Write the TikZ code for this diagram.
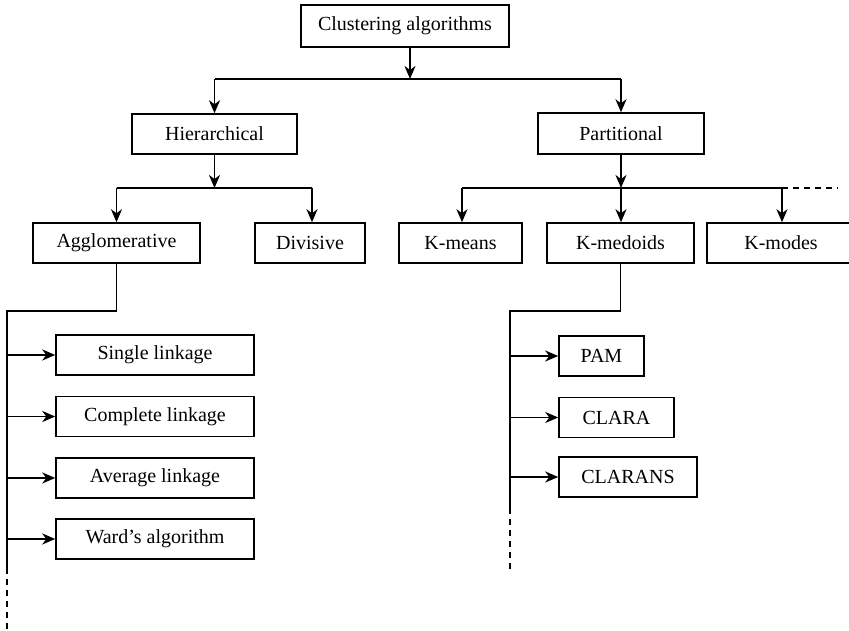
\documentclass[tikz,border=0pt]{standalone}
\usepackage{fontspec}
\setmainfont{Liberation Serif}
\usetikzlibrary{arrows.meta}
\begin{document}
\begin{tikzpicture}[x=1pt,y=-1pt,
  box/.style={draw, line width=1.5pt, rectangle, inner sep=0pt,
    font=\fontsize{20}{24}\selectfont},
  conn/.style={line width=1.8pt},
  arr/.style={conn, -{Stealth[length=13pt,width=11pt,inset=4pt]}},
  dashline/.style={line width=1.6pt, dash pattern=on 6pt off 5pt}]
\useasboundingbox (0,0) rectangle (849,631);
\clip (0,0) rectangle (849,631);
% level 0
\node[box, minimum width=208pt, minimum height=42pt] (clus) at (405,26) {Clustering algorithms};
% level 1
\node[box, minimum width=165pt, minimum height=40pt] (hier) at (214.5,134) {Hierarchical};
\node[box, minimum width=166pt, minimum height=41pt] (part) at (621,133.5) {Partitional};
% level 2
\node[box, minimum width=167pt, minimum height=40pt] (agg) at (116.5,243) {Agglomerative};
\node[box, minimum width=110pt, minimum height=40pt] (div) at (310,243) {Divisive};
\node[box, minimum width=123pt, minimum height=40pt] (kmeans) at (460.5,243) {K-means};
\node[box, minimum width=147pt, minimum height=40pt] (kmed) at (620.5,243) {K-medoids};
\node[box, minimum width=148pt, minimum height=40pt] (kmodes) at (781,243) {K-modes};
% hierarchical leaves
\node[box, minimum width=198pt, minimum height=40pt] (single) at (155,355) {Single linkage};
\node[box, minimum width=198pt, minimum height=40pt] (complete) at (155,416.5) {Complete linkage};
\node[box, minimum width=198pt, minimum height=40pt] (average) at (155,478) {Average linkage};
\node[box, minimum width=198pt, minimum height=40pt] (ward) at (155,539) {Ward’s algorithm};
% k-medoids leaves
\node[box, minimum width=85pt, minimum height=40pt] (pam) at (601.5,356) {PAM};
\node[box, minimum width=115pt, minimum height=40pt] (clara) at (616.5,417.5) {CLARA};
\node[box, minimum width=138pt, minimum height=40pt] (clarans) at (628,477) {CLARANS};
% junction coordinates
\coordinate (j0) at (410,79);
\coordinate (j0l) at (214.5,79);
\coordinate (j0r) at (621,79);
\coordinate (jh) at (214.5,188);
\coordinate (jhl) at (116.5,188);
\coordinate (jhr) at (312,188);
\coordinate (jp) at (621,188);
\coordinate (jpl) at (462,188);
\coordinate (jpr) at (782,188);
\coordinate (jpd) at (838,188);
\coordinate (ja) at (116.5,311);
\coordinate (jal) at (7,311);
\coordinate (jae) at (7,568);
\coordinate (jad) at (7,631);
\coordinate (jm) at (620.5,311);
\coordinate (jml) at (510,311);
\coordinate (jme) at (510,508);
\coordinate (jmd) at (510,570);
% level 0 -> 1
\draw[arr] (clus.south -| j0) -- (j0);
\draw[conn] (j0l) -- (j0r);
\draw[arr] (j0l) -- (hier.north);
\draw[arr] (j0r) -- (part.north);
% hierarchical -> 2
\draw[arr] (hier.south) -- (jh);
\draw[conn] (jhl) -- (jhr);
\draw[arr] (jhl) -- (agg.north);
\draw[arr] (jhr) -- (div.north -| jhr);
% partitional -> 2
\draw[arr] (part.south) -- (jp);
\draw[conn] (jpl) -- (jpr);
\draw[dashline] (jpr) -- (jpd);
\draw[arr] (jpl) -- (kmeans.north -| jpl);
\draw[arr] (jp) -- (kmed.north -| jp);
\draw[arr] (jpr) -- (kmodes.north -| jpr);
% agglomerative leaves
\draw[conn] (agg.south) -- (ja) -- (jal) -- (jae);
\draw[dashline] (jae) -- (jad);
\foreach \n in {single,complete,average,ward}
  \draw[arr] (jal |- \n.west) -- (\n.west);
% k-medoids leaves
\draw[conn] (kmed.south) -- (jm) -- (jml) -- (jme);
\draw[dashline] (jme) -- (jmd);
\foreach \n in {pam,clara,clarans}
  \draw[arr] (jml |- \n.west) -- (\n.west);
\end{tikzpicture}
\end{document}
